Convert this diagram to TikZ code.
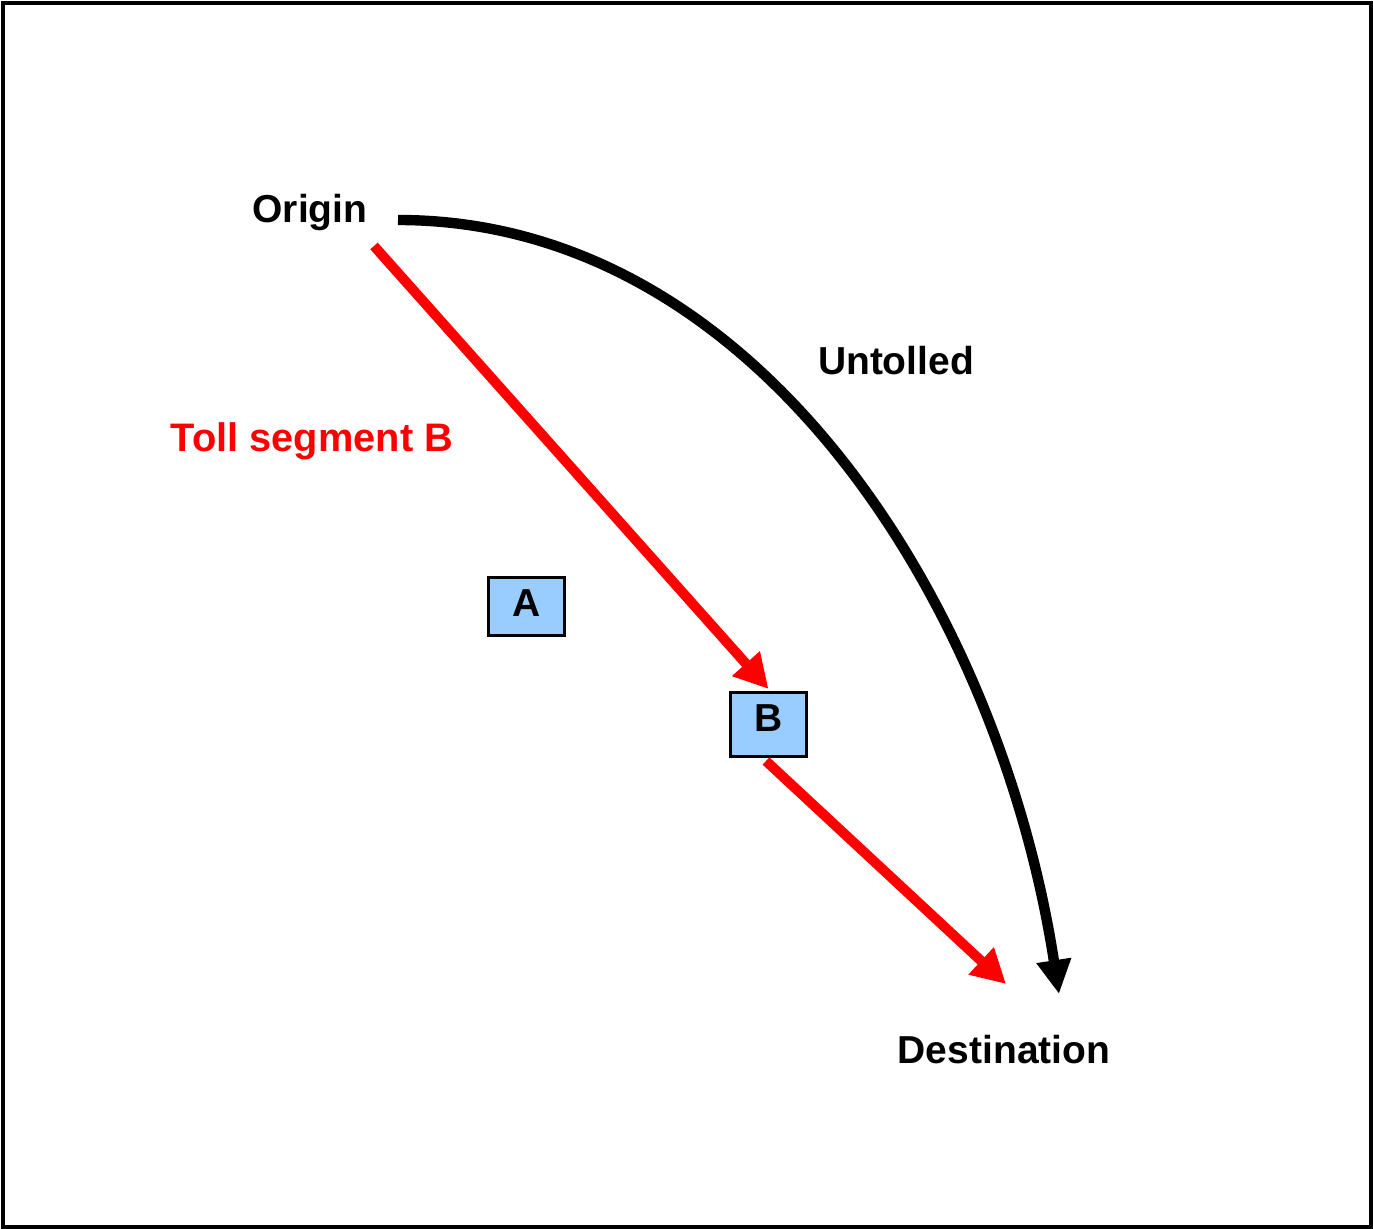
\documentclass[tikz,border=0pt]{standalone}
\usepackage{fontspec}
\setmainfont{Liberation Sans}
\usetikzlibrary{arrows.meta}
\definecolor{boxblue}{HTML}{99CCFF}
\tikzset{
  lbl/.style={font=\fontsize{19.5}{23}\selectfont\bfseries, anchor=base, inner sep=0pt},
  tollbox/.style={draw=black, line width=1.5pt, fill=boxblue, inner sep=0pt, minimum width=38pt},
  redarrow/.style={draw=red, line width=5pt, -{Triangle[length=17pt,width=17.5pt]}},
  blackarrow/.style={draw=black, line width=5.2pt, -{Triangle[length=17pt,width=16.5pt]}}
}
\begin{document}
\begin{tikzpicture}[x=0.5pt,y=-0.5pt]
\useasboundingbox (0,0) rectangle (1373,1229);
\draw[line width=2pt] (2.5,3.5) rectangle (1371,1227);
% labels
\node[lbl] (origin) at (310,223) {Origin};
\node[lbl] (untolled) at (896,375) {Untolled};
\node[lbl, text=red, font=\fontsize{19.9}{23}\selectfont\bfseries] (tollB) at (312,452) {Toll segment B};
\node[lbl] (dest) at (1004,1064) {Destination};
% boxes
\node[tollbox, minimum height=29pt] (A) at (526.5,606.5) {};
\node[lbl] (Alab) at (526.5,617) {A};
\node[tollbox, minimum height=32pt] (B) at (768.5,724.5) {};
\node[lbl] (Blab) at (768.5,732) {B};
% connector ends
\coordinate (rs1) at (374,246);
\coordinate (rs2) at (766,761);
\coordinate (re2) at (1006,984);
\coordinate (us) at (398,220);
\coordinate (ue) at (1059,994);
% connectors
\draw[redarrow] (rs1) -- ([yshift=1pt]B.north);
\draw[redarrow] (rs2) -- (re2);
\draw[blackarrow] (us) .. controls (760,220) and (1000,610) .. (ue);
\end{tikzpicture}
\end{document}
